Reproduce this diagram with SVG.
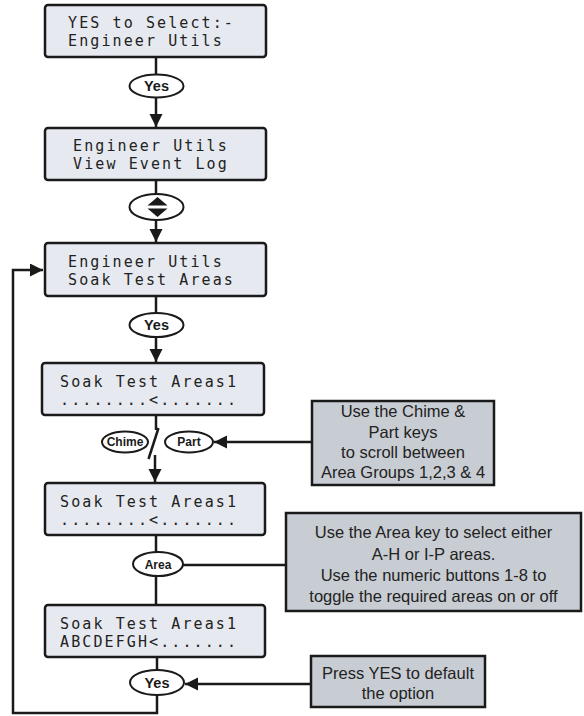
<svg xmlns="http://www.w3.org/2000/svg" width="584" height="716" viewBox="0 0 584 716">
<style>
.lcd{fill:#e6e9ef;stroke:#1a1a1a;stroke-width:2.5}
.info{fill:#c8ccd3;stroke:#1a1a1a;stroke-width:2.5}
.lt{font-family:"DejaVu Sans Mono","Liberation Mono",monospace;font-size:15px;letter-spacing:2.1px;fill:#222}
.ov{fill:#fff;stroke:#1a1a1a;stroke-width:2}
.ot{font-family:"Liberation Sans",Arial,sans-serif;font-weight:bold;font-size:12px;fill:#1a1a1a;text-anchor:middle}
.oy{font-size:14.5px}
.it{font-family:"Liberation Sans",Arial,sans-serif;font-size:16.5px;fill:#222;text-anchor:middle}
.ln{fill:none;stroke:#1a1a1a;stroke-width:2.5}
</style>
<defs>
<marker id="ah" markerUnits="userSpaceOnUse" markerWidth="14" markerHeight="14" refX="13" refY="6.5" orient="auto">
<path d="M0,0 L13,6.5 L0,13 z" fill="#1a1a1a"/>
</marker>
</defs>
<g id="connectors">
<line class="ln" x1="156" y1="57" x2="156" y2="75"/>
<line class="ln" x1="156" y1="97" x2="156" y2="127" marker-end="url(#ah)"/>
<line class="ln" x1="156" y1="180" x2="156" y2="194"/>
<line class="ln" x1="156" y1="220" x2="156" y2="242" marker-end="url(#ah)"/>
<line class="ln" x1="156" y1="296" x2="156" y2="313"/>
<line class="ln" x1="156" y1="337" x2="156" y2="362" marker-end="url(#ah)"/>
<line class="ln" x1="156" y1="415" x2="156" y2="430"/>
<line class="ln" x1="158.5" y1="428" x2="148.5" y2="459"/>
<line class="ln" x1="155" y1="455" x2="155" y2="482" marker-end="url(#ah)"/>
<line class="ln" x1="312" y1="442" x2="214" y2="442" marker-end="url(#ah)"/>
<line class="ln" x1="156" y1="535" x2="156" y2="552"/>
<line class="ln" x1="156" y1="576" x2="156" y2="605"/>
<line class="ln" x1="183" y1="565" x2="286" y2="565"/>
<line class="ln" x1="157" y1="657" x2="157" y2="670"/>
<line class="ln" x1="311" y1="684" x2="185" y2="684" marker-end="url(#ah)"/>
<polyline class="ln" points="157,695 157,713 13,713 13,270 43,270" marker-end="url(#ah)"/>
</g>
<g id="lcd1">
<rect class="lcd" x="45" y="5" width="221" height="52" rx="3"/>
<text class="lt" x="68" y="28">YES to Select:-</text>
<text class="lt" x="68" y="46">Engineer Utils</text>
</g>
<g id="yes1">
<ellipse class="ov" cx="156.5" cy="86" rx="27" ry="11.5"/>
<text class="ot oy" x="156.5" y="91">Yes</text>
</g>
<g id="lcd2">
<rect class="lcd" x="45" y="128" width="221" height="52" rx="3"/>
<text class="lt" x="73" y="151">Engineer Utils</text>
<text class="lt" x="73" y="169">View Event Log</text>
</g>
<g id="scroll">
<ellipse class="ov" cx="156.5" cy="207" rx="27" ry="13"/>
<path d="M147.5,205.5 L157.5,197 L167.5,205.5 z" fill="#1a1a1a"/>
<path d="M147.5,208.5 L157.5,217 L167.5,208.5 z" fill="#1a1a1a"/>
</g>
<g id="lcd3">
<rect class="lcd" x="45" y="243" width="221" height="53" rx="3"/>
<text class="lt" x="68" y="266.5">Engineer Utils</text>
<text class="lt" x="68" y="284.5">Soak Test Areas</text>
</g>
<g id="yes2">
<ellipse class="ov" cx="156.5" cy="325" rx="27" ry="12"/>
<text class="ot oy" x="156.5" y="330">Yes</text>
</g>
<g id="lcd4">
<rect class="lcd" x="42" y="363" width="222" height="52" rx="3"/>
<text class="lt" x="60" y="386.5">Soak Test Areas1</text>
<text class="lt" x="60" y="404.5">........&lt;.......</text>
</g>
<g id="chime">
<ellipse class="ov" cx="125" cy="442" rx="23" ry="10.5"/>
<text class="ot" x="125" y="446">Chime</text>
</g>
<g id="part">
<ellipse class="ov" cx="189" cy="442" rx="24" ry="10.5"/>
<text class="ot" x="189" y="446">Part</text>
</g>
<g id="info-chime">
<rect class="info" x="312" y="401" width="182" height="84"/>
<text class="it" x="403" y="417">Use the Chime &amp;</text>
<text class="it" x="403" y="437.5">Part keys</text>
<text class="it" x="403" y="458">to scroll between</text>
<text class="it" x="403" y="478">Area Groups 1,2,3 &amp; 4</text>
</g>
<g id="lcd5">
<rect class="lcd" x="45" y="483" width="220" height="52" rx="3"/>
<text class="lt" x="60" y="506.5">Soak Test Areas1</text>
<text class="lt" x="60" y="524.5">........&lt;.......</text>
</g>
<g id="area">
<ellipse class="ov" cx="158" cy="564" rx="25" ry="12"/>
<text class="ot" x="158" y="568.5">Area</text>
</g>
<g id="info-area">
<rect class="info" x="286" y="513" width="295" height="98"/>
<text class="it" x="433.5" y="538">Use the Area key to select either</text>
<text class="it" x="433.5" y="559.5">A-H or I-P areas.</text>
<text class="it" x="433.5" y="581">Use the numeric buttons 1-8 to</text>
<text class="it" x="433.5" y="602">toggle the required areas on or off</text>
</g>
<g id="lcd6">
<rect class="lcd" x="45" y="605" width="220" height="52" rx="3"/>
<text class="lt" x="60" y="628.5">Soak Test Areas1</text>
<text class="lt" x="60" y="646.5">ABCDEFGH&lt;.......</text>
</g>
<g id="yes3">
<ellipse class="ov" cx="157" cy="682.5" rx="27" ry="12.5"/>
<text class="ot oy" x="157" y="687.5">Yes</text>
</g>
<g id="info-yes">
<rect class="info" x="311" y="656" width="174" height="51"/>
<text class="it" x="398" y="679">Press YES to default</text>
<text class="it" x="398" y="699">the option</text>
</g>
</svg>
